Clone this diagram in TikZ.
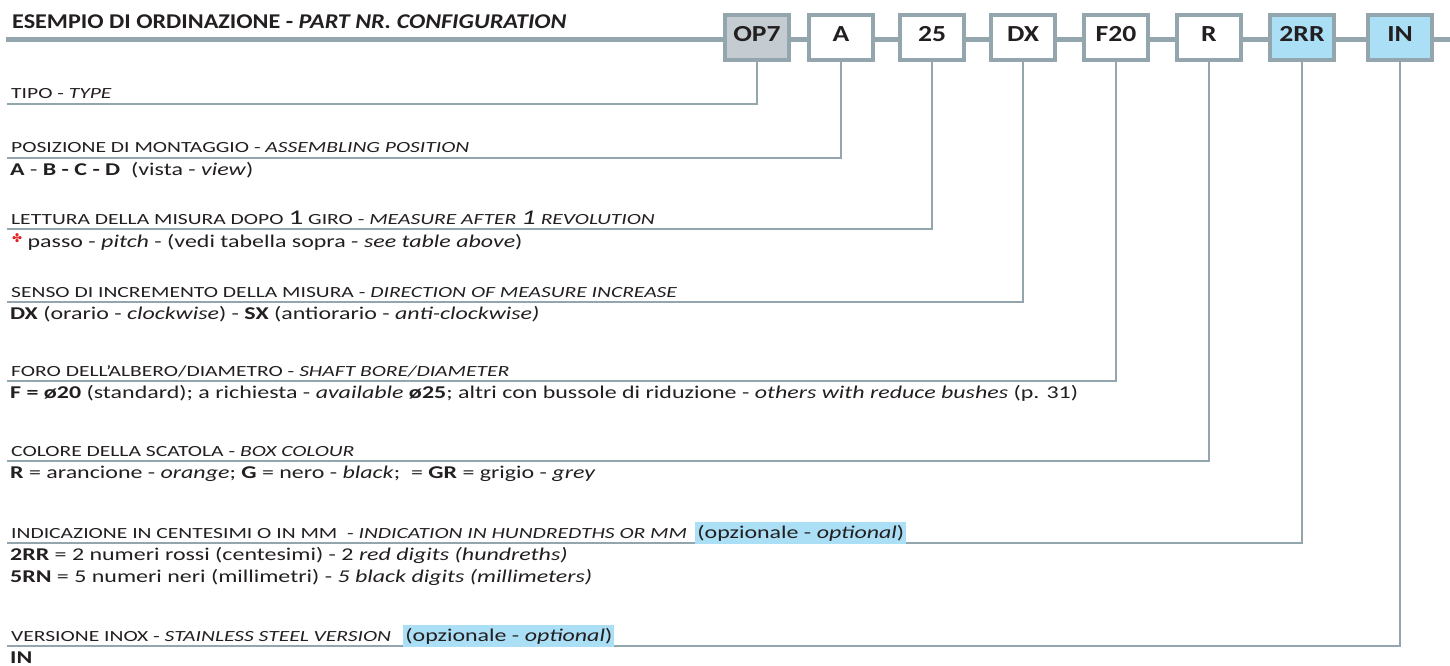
\documentclass[tikz,border=0pt]{standalone}
\usepackage{fontspec}
\setmainfont{Carlito}[FakeStretch=1.33]
\newfontfamily\titlefont{Carlito}[FakeStretch=1.15]
\newfontfamily\boxfont{Carlito}[FakeStretch=1.2]
\newfontfamily\labfont{Carlito}[FakeStretch=1.39]
\newfontfamily\dejavu{DejaVu Sans}
\definecolor{lg}{HTML}{93A5AD}
\definecolor{opfill}{HTML}{C5CCD1}
\definecolor{sky}{HTML}{AADFF6}
\definecolor{ink}{HTML}{231F20}
\definecolor{rosso}{HTML}{E31E24}
\newcommand\dg[1]{{\fontsize{21}{21}\selectfont #1}}
\newcommand\redmark{{\color{rosso}\dejavu\fontsize{12}{12}\selectfont\raisebox{5pt}{✤}}}
\begin{document}
\begin{tikzpicture}[x=1pt,y=-1pt,
  codebox/.style={draw=lg, line width=4pt, fill=white, minimum width=64pt, minimum height=45pt,
    inner sep=0pt, text height=14.8pt, text depth=6pt, text=ink,
    font=\boxfont\fontsize{23}{23}\selectfont\bfseries},
  lab/.style={anchor=base west, inner sep=0pt, text=ink, font=\labfont\fontsize{15.5}{15.5}\selectfont},
  body/.style={anchor=base west, inner sep=0pt, text=ink, font=\fontsize{18}{18}\selectfont},
  conn/.style={draw=lg, line width=2.7pt},
  opt/.style={fill=sky, inner xsep=2pt, inner ysep=3pt, anchor=base west, text=ink, font=\fontsize{18}{18}\selectfont}
]
\useasboundingbox (0,0) rectangle (1450,666);
% main line
\coordinate (mL) at (6,40);
\coordinate (mR) at (1450,40);
\draw[lg, line width=5pt] (mL) -- (mR);
\node[anchor=base west, inner sep=0pt, text=ink, font=\titlefont\fontsize{21}{21}\selectfont\bfseries] (title) at (12,29)
  {ESEMPIO DI ORDINAZIONE - \textit{PART NR. CONFIGURATION}};
% code boxes
\node[codebox, fill=opfill] (b1) at (757,37.5) {OP7};
\node[codebox] (b2) at (841,37.5) {A};
\node[codebox] (b3) at (932,37.5) {25};
\node[codebox] (b4) at (1023,37.5) {DX};
\node[codebox] (b5) at (1116,37.5) {F20};
\node[codebox] (b6) at (1209,37.5) {R};
\node[codebox, fill=sky] (b7) at (1302,37.5) {2RR};
\node[codebox, fill=sky] (b8) at (1400,37.5) {IN};
% underline end points
\coordinate (u1) at (7,104);
\coordinate (u2) at (7,158);
\coordinate (u3) at (7,229);
\coordinate (u4) at (7,302);
\coordinate (u5) at (7,381);
\coordinate (u6) at (7,461);
\coordinate (u7) at (7,543);
\coordinate (u8) at (7,646);
\draw[conn] (b1.south) |- (u1);
\draw[conn] (b2.south) |- (u2);
\draw[conn] (b3.south) |- (u3);
\draw[conn] (b4.south) |- (u4);
\draw[conn] (b5.south) |- (u5);
\draw[conn] (b6.south) |- (u6);
\draw[conn] (b7.south) |- (u7);
\draw[conn] (b8.south) |- (u8);
% labels and texts
\node[lab] (l1) at (11,99) {TIPO - \textit{TYPE}};
\node[lab] (l2) at (11,153) {POSIZIONE DI MONTAGGIO - \textit{ASSEMBLING POSITION}};
\node[body] (t2) at (10,175) {\textbf{A} - \textbf{B - C - D}\ \ (vista - \textit{view})};
\node[lab] (l3) at (11,224) {LETTURA DELLA MISURA DOPO \dg{1} GIRO - \textit{MEASURE AFTER \dg{1} REVOLUTION}};
\node[body] (t3) at (12,247) {\redmark\ passo - \textit{pitch} - (vedi tabella sopra - \textit{see table above})};
\node[lab] (l4) at (11,297) {SENSO DI INCREMENTO DELLA MISURA - \textit{DIRECTION OF MEASURE INCREASE}};
\node[body] (t4) at (10,319) {\textbf{DX} (orario - \textit{clockwise}) - \textbf{SX} (antiorario - \textit{anti-clockwise)}};
\node[lab] (l5) at (11,376) {FORO DELL’ALBERO/DIAMETRO - \textit{SHAFT BORE/DIAMETER}};
\node[body] (t5) at (10,398) {\textbf{F = ø20} (standard); a richiesta - \textit{available} \textbf{ø25}; altri con bussole di riduzione - \textit{others with reduce bushes} (p. 31)};
\node[lab] (l6) at (11,456) {COLORE DELLA SCATOLA - \textit{BOX COLOUR}};
\node[body] (t6) at (10,478) {\textbf{R} = arancione - \textit{orange}; \textbf{G} = nero - \textit{black};\ \ = \textbf{GR} = grigio - \textit{grey}};
\node[lab] (l7) at (11,538) {INDICAZIONE IN CENTESIMI O IN MM\ \ - \textit{INDICATION IN HUNDREDTHS OR MM}};
\node[opt] (o7) at ([xshift=8pt]l7.base east) {(opzionale - \textit{optional})};
\node[body] (t7a) at (10,560) {\textbf{2RR} = 2 numeri rossi (centesimi) - 2 \textit{red digits (hundreths)}};
\node[body] (t7b) at (10,582) {\textbf{5RN} = 5 numeri neri (millimetri) - \textit{5 black digits (millimeters)}};
\node[lab] (l8) at (11,641) {VERSIONE INOX - \textit{STAINLESS STEEL VERSION}};
\node[opt] (o8) at ([xshift=12pt]l8.base east) {(opzionale - \textit{optional})};
\node[body] (t8) at (10,663) {\textbf{IN}};
\end{tikzpicture}
\end{document}
